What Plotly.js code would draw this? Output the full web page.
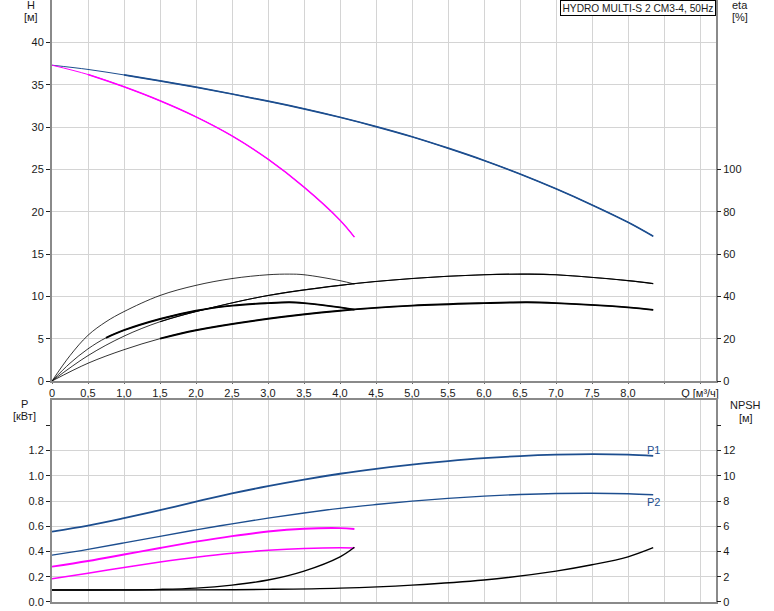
<!DOCTYPE html>
<html>
<head>
<meta charset="utf-8">
<script src="https://cdn.plot.ly/plotly-3.0.1.min.js"></script>
<style>html,body{margin:0;padding:0;background:#fff;}#chart{width:774px;height:611px;}</style>
</head>
<body>
<div id="chart"></div>
<script>
// ---- Data ----
var xTickVals = [0,0.5,1,1.5,2,2.5,3,3.5,4,4.5,5,5.5,6,6.5,7,7.5,8,8.5,9];
var xTickText = ['0','0,5','1,0','1,5','2,0','2,5','3,0','3,5','4,0','4,5','5,0','5,5','6,0','6,5','7,0','7,5','8,0','','Q [м³/ч]'];

// H curves (m)
var qHfull = [0,0.5,1,1.5,2,2.5,3,3.5,4,4.5,5,5.5,6,6.5,7,7.5,8,8.35];
var hFull  = [37.3,36.8,36.15,35.45,34.7,33.9,33.05,32.15,31.15,30.05,28.85,27.5,26.05,24.45,22.7,20.8,18.75,17.1];
var qHred  = [0,0.5,1,1.5,2,2.5,3,3.5,4,4.2];
var hRed   = [37.3,36.2,34.75,33.1,31.2,28.95,26.2,22.9,19.0,17.0];

// eta curves (%), plotted on the eta axis
var qEtaShort = [0,0.25,0.5,0.75,1,1.5,2,2.5,3,3.3,3.5,4,4.2];
var etaShortA = [0,12.0,21.6,28.0,32.8,40.4,45.2,48.4,50.2,50.5,50.2,47.4,45.8];
var etaShortB = [0,8.4,15.2,20.4,24.0,29.3,33.2,35.6,36.8,37.2,36.8,34.8,33.7];
var qEtaLong  = [0,0.5,1,1.5,2,3,4,5,6,6.6,7,8,8.35];
var etaLongC  = [0,12.0,21.2,28.0,32.8,40.4,45.2,48.4,50.2,50.5,50.2,47.4,46.0];
var etaLongD  = [0,8.4,14.8,20.0,24.0,29.4,33.2,35.6,36.8,37.2,36.8,34.8,33.6];

// Power curves (kW)
var qP  = [0,0.5,1,1.5,2,2.5,3,3.5,4,4.5,5,5.5,6,6.5,7,7.5,8,8.35];
var p1  = [0.558,0.605,0.664,0.728,0.795,0.86,0.918,0.97,1.016,1.055,1.088,1.116,1.139,1.156,1.167,1.172,1.168,1.158];
var p2  = [0.371,0.417,0.468,0.52,0.571,0.619,0.664,0.705,0.742,0.772,0.799,0.821,0.839,0.852,0.86,0.862,0.858,0.85];
var qPm = [0,0.5,1,1.5,2,2.5,3,3.5,4,4.2];
var pm1 = [0.28,0.325,0.376,0.428,0.478,0.522,0.558,0.58,0.585,0.578];
var pm2 = [0.184,0.228,0.274,0.316,0.354,0.386,0.409,0.424,0.43,0.428];

// NPSH curves (m)
var qNshort = [0,0.5,1,1.5,2,2.5,3,3.5,4,4.2];
var nShort  = [0.95,0.95,0.96,1.0,1.1,1.34,1.74,2.45,3.58,4.34];
var qNlong  = [0,1,2,3,4,5,6,7,7.5,8,8.35];
var nLong   = [0.95,0.95,0.96,1.0,1.1,1.34,1.74,2.45,2.95,3.58,4.3];

// ---- Styling ----
var NAVY = '#1d4e8f', MAG = '#ff00ff', BLK = '#000000';

function tr(x, y, xa, ya, color, width) {
  return {x: x, y: y, xaxis: xa, yaxis: ya, type: 'scatter', mode: 'lines',
          line: {color: color, width: width, shape: 'spline', smoothing: 1},
          hoverinfo: 'skip', showlegend: false};
}
function sl(a, i0, i1) { return a.slice(i0, i1); }

var traces = [
  // H curves
  tr(qHfull, hFull, 'x', 'y', NAVY, 1),
  tr(sl(qHfull,2), sl(hFull,2), 'x', 'y', NAVY, 1.7),
  tr(qHred, hRed, 'x', 'y', MAG, 1),
  tr(sl(qHred,1), sl(hRed,1), 'x', 'y', MAG, 1.4),
  // eta curves
  tr(qEtaShort, etaShortA, 'x', 'y2', BLK, 0.8),
  tr(qEtaShort, etaShortB, 'x', 'y2', BLK, 0.8),
  tr(sl(qEtaShort,3), sl(etaShortB,3), 'x', 'y2', BLK, 1.9),
  tr(qEtaLong, etaLongC, 'x', 'y2', BLK, 0.8),
  tr(sl(qEtaLong,3), sl(etaLongC,3), 'x', 'y2', BLK, 1.1),
  tr(qEtaLong, etaLongD, 'x', 'y2', BLK, 0.8),
  tr(sl(qEtaLong,3), sl(etaLongD,3), 'x', 'y2', BLK, 1.9),
  // Power
  tr(qP, p1, 'x2', 'y3', NAVY, 1.8),
  tr(qP, p2, 'x2', 'y3', NAVY, 1.4),
  tr(qPm, pm1, 'x2', 'y3', MAG, 1.9),
  tr(qPm, pm2, 'x2', 'y3', MAG, 1.5),
  // NPSH
  tr(qNshort, nShort, 'x2', 'y4', BLK, 1.4),
  tr(qNlong, nLong, 'x2', 'y4', BLK, 1.4)
];

var FONT = {family: 'Liberation Sans, Arial, sans-serif', size: 11, color: '#1a1a1a'};
var GRID = '#d4d4d4', LINE = '#8a8a8a';

var baseX = {
  range: [0, 9.222], tickvals: xTickVals, showgrid: true, gridcolor: GRID, gridwidth: 1,
  showline: true, linecolor: LINE, linewidth: 2, mirror: true, zeroline: false,
  ticks: 'outside', ticklen: 1, tickcolor: '#666', tickfont: FONT, fixedrange: true
};
var baseY = {
  showgrid: true, gridcolor: GRID, gridwidth: 1, showline: true, linecolor: LINE, linewidth: 2,
  mirror: true, zeroline: false, ticks: 'outside', ticklen: 4, tickcolor: '#222', tickfont: FONT, fixedrange: true
};

var layout = {
  width: 774, height: 611,
  margin: {l: 52, r: 58, t: 0, b: 9, pad: 0},
  paper_bgcolor: '#ffffff', plot_bgcolor: '#ffffff',
  font: FONT, showlegend: false,
  xaxis: Object.assign({}, baseX, {anchor: 'y', domain: [0, 1], ticktext: xTickText}),
  yaxis: Object.assign({}, baseY, {domain: [0.3671, 1], range: [0, 45], tickvals: [0,5,10,15,20,25,30,35,40]}),
  yaxis2: Object.assign({}, baseY, {overlaying: 'y', side: 'right', anchor: 'x', range: [0, 180],
          tickvals: [0,20,40,60,80,100], showgrid: false, showline: false}),
  xaxis2: Object.assign({}, baseX, {anchor: 'y3', domain: [0, 1], showticklabels: false, ticks: ''}),
  yaxis3: Object.assign({}, baseY, {domain: [0, 0.3355], range: [0, 1.6],
          tickvals: [0,0.2,0.4,0.6,0.8,1.0,1.2], ticktext: ['0.0','0.2','0.4','0.6','0.8','1.0','1.2'],
          minor: {tickvals: [1.4], ticks: 'outside', ticklen: 4, tickcolor: '#222', showgrid: false}}),
  yaxis4: Object.assign({}, baseY, {overlaying: 'y3', side: 'right', anchor: 'x2', range: [0, 16],
          tickvals: [0,2,4,6,8,10,12], showgrid: false, showline: false,
          minor: {tickvals: [14], ticks: 'outside', ticklen: 4, tickcolor: '#222', showgrid: false}}),
  annotations: [
    {text: 'H', xref: 'paper', yref: 'paper', x: -0.0316, y: 0.992, showarrow: false, font: FONT, xanchor: 'center', yanchor: 'middle'},
    {text: '[м]', xref: 'paper', yref: 'paper', x: -0.0316, y: 0.971, showarrow: false, font: FONT, xanchor: 'center', yanchor: 'middle'},
    {text: 'eta', xref: 'paper', yref: 'paper', x: 1.036, y: 0.992, showarrow: false, font: FONT, xanchor: 'center', yanchor: 'middle'},
    {text: '[%]', xref: 'paper', yref: 'paper', x: 1.036, y: 0.972, showarrow: false, font: FONT, xanchor: 'center', yanchor: 'middle'},
    {text: 'P', xref: 'paper', yref: 'paper', x: -0.0407, y: 0.329, showarrow: false, font: FONT, xanchor: 'center', yanchor: 'middle'},
    {text: '[кВт]', xref: 'paper', yref: 'paper', x: -0.0407, y: 0.309, showarrow: false, font: FONT, xanchor: 'center', yanchor: 'middle'},
    {text: 'NPSH', xref: 'paper', yref: 'paper', x: 1.045, y: 0.327, showarrow: false, font: FONT, xanchor: 'center', yanchor: 'middle'},
    {text: '[м]', xref: 'paper', yref: 'paper', x: 1.045, y: 0.306, showarrow: false, font: FONT, xanchor: 'center', yanchor: 'middle'},
    {text: 'HYDRO MULTI-S 2 CM3-4, 50Hz', xref: 'paper', yref: 'paper', x: 1, y: 1, xanchor: 'right', yanchor: 'top',
     showarrow: false, font: {family: FONT.family, size: 10.2, color: '#1a1a1a'}, bgcolor: '#ffffff',
     bordercolor: '#000000', borderwidth: 1, borderpad: 1.5},
    {text: 'P1', xref: 'x2', yref: 'y3', x: qP[qP.length-1], y: p1[p1.length-1], xanchor: 'center', yanchor: 'bottom',
     yshift: -2, showarrow: false, font: {family: FONT.family, size: 11, color: NAVY}},
    {text: 'P2', xref: 'x2', yref: 'y3', x: qP[qP.length-1], y: p2[p2.length-1], xanchor: 'center', yanchor: 'top',
     yshift: 1, showarrow: false, font: {family: FONT.family, size: 11, color: NAVY}}
  ]
};

Plotly.newPlot('chart', traces, layout, {displayModeBar: false, staticPlot: true});
</script>
</body>
</html>
